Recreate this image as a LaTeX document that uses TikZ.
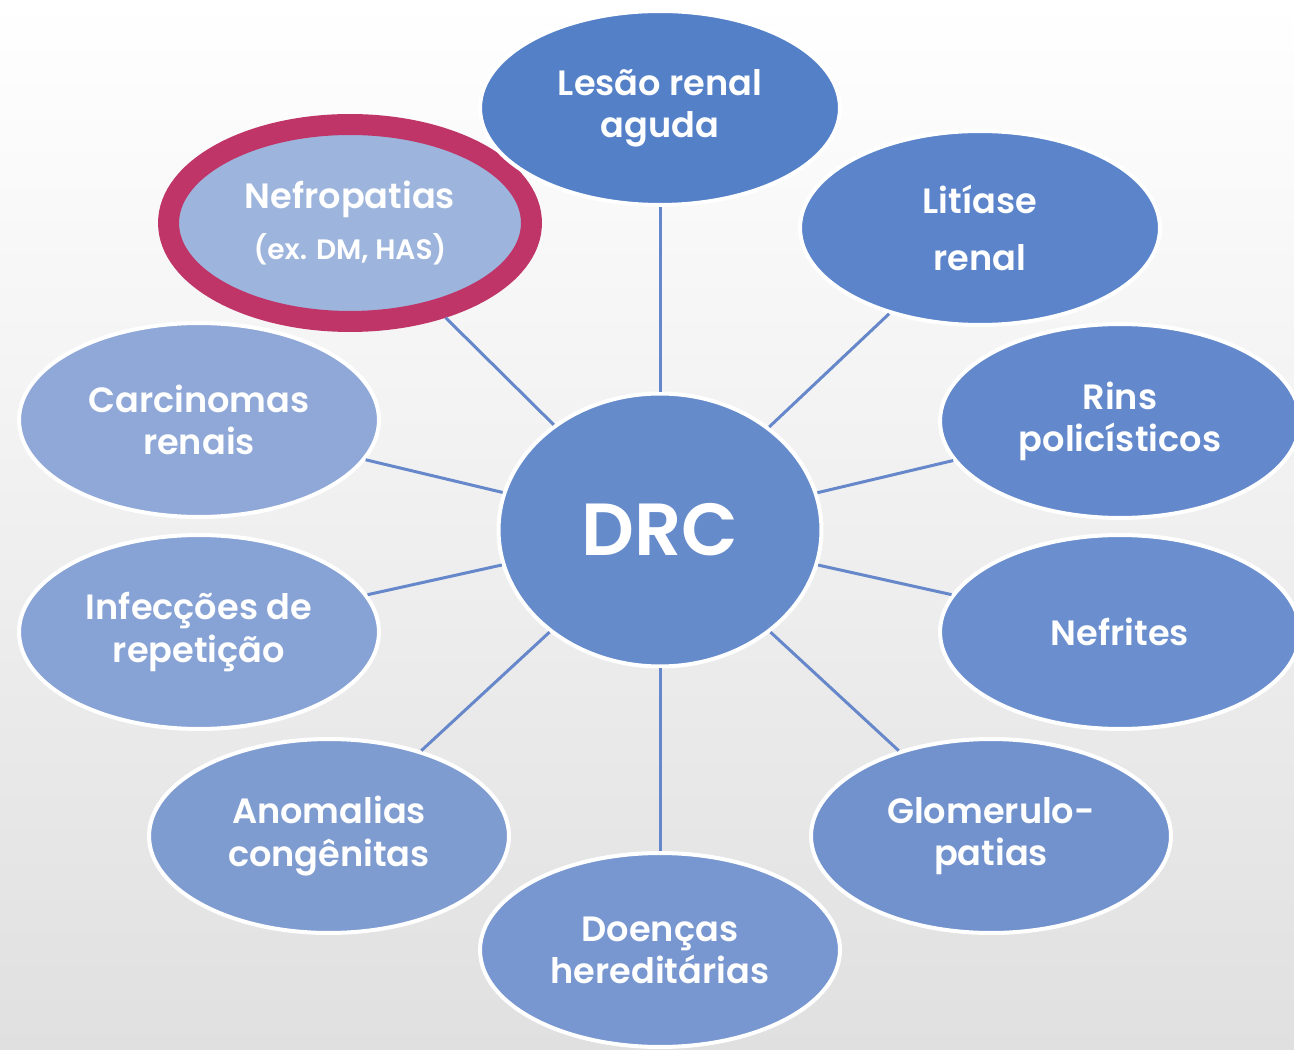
\documentclass[tikz,border=0pt]{standalone}
\usepackage{fontspec}
\setmainfont{Poppins}[BoldFont={Poppins SemiBold}]
\usetikzlibrary{shapes.geometric}
\definecolor{mCause0}{HTML}{5480C8}
\definecolor{mCause1}{HTML}{5B84CA}
\definecolor{mCause2}{HTML}{6389CC}
\definecolor{mCause3}{HTML}{6A8ECE}
\definecolor{mCause4}{HTML}{7292CE}
\definecolor{mCause5}{HTML}{7896CF}
\definecolor{mCause6}{HTML}{7F9CD1}
\definecolor{mCause7}{HTML}{87A2D4}
\definecolor{mCause8}{HTML}{8FA8D7}
\definecolor{mCause9}{HTML}{9DB4DC}
\definecolor{mCore}{HTML}{668BCB}
\definecolor{mRing}{HTML}{C03567}
\definecolor{mLink}{HTML}{6688CA}
\definecolor{mBgBottom}{HTML}{E1E0E1}

\begin{document}
\begin{tikzpicture}[
  x=0.02cm, y=-0.02cm,
  every node/.style={font=\bfseries\fontsize{20}{24}\selectfont, align=center, text=white},
  cause/.style={
    ellipse,
    draw=white,
    line width=0.08cm,
    inner sep=0pt,
    minimum width=7.2cm,
    minimum height=3.88cm
  },
  core/.style={
    ellipse,
    draw=white,
    line width=0.08cm,
    fill=mCore,
    inner sep=0pt,
    minimum width=6.46cm,
    minimum height=5.46cm,
    font=\bfseries\fontsize{42}{48}\selectfont
  },
  focus/.style={draw=mRing, line width=0.42cm, minimum width=7.26cm, minimum height=3.94cm},
  link/.style={draw=mLink, line width=0.06cm}
]

\shade[top color=white, bottom color=mBgBottom] (0,0) rectangle (1294,1050);
\useasboundingbox (0,0) rectangle (1294,1050);

\node[cause, focus, fill=mCause9] (nef) at (350,223)
{Nefropatias\\[5pt]{\fontsize{16}{18}\selectfont (ex. DM, HAS)}};

\node[cause, fill=mCause0] (lesao) at (660,108) {Lesão renal\\aguda};
\node[cause, fill=mCause1] (litiase) at (980,228) {Litíase\\[8pt]renal};
\node[cause, fill=mCause2] (rins) at (1120,421) {Rins\\policísticos};
\node[cause, fill=mCause3] (nefrites) at (1120,632) {Nefrites};
\node[cause, fill=mCause4] (glom) at (991,836) {Glomerulo-\\patias};
\node[cause, fill=mCause5] (heredit) at (660,950) {Doenças\\hereditárias};
\node[cause, fill=mCause6] (anomal) at (329,836) {Anomalias\\congênitas};
\node[cause, fill=mCause7] (infec) at (199,632) {Infecções de\\repetição};
\node[cause, fill=mCause8] (carcin) at (199,420) {Carcinomas\\renais};

\node[core] (drc) at (660,530) {DRC};

\draw[link] (drc) -- (lesao);
\draw[link] (drc) -- (litiase);
\draw[link] (drc) -- (rins);
\draw[link] (drc) -- (nefrites);
\draw[link] (drc) -- (glom);
\draw[link] (drc) -- (heredit);
\draw[link] (drc) -- (anomal);
\draw[link] (drc) -- (infec);
\draw[link] (drc) -- (carcin);
\draw[link] (drc) -- (nef);

\end{tikzpicture}
\end{document}
